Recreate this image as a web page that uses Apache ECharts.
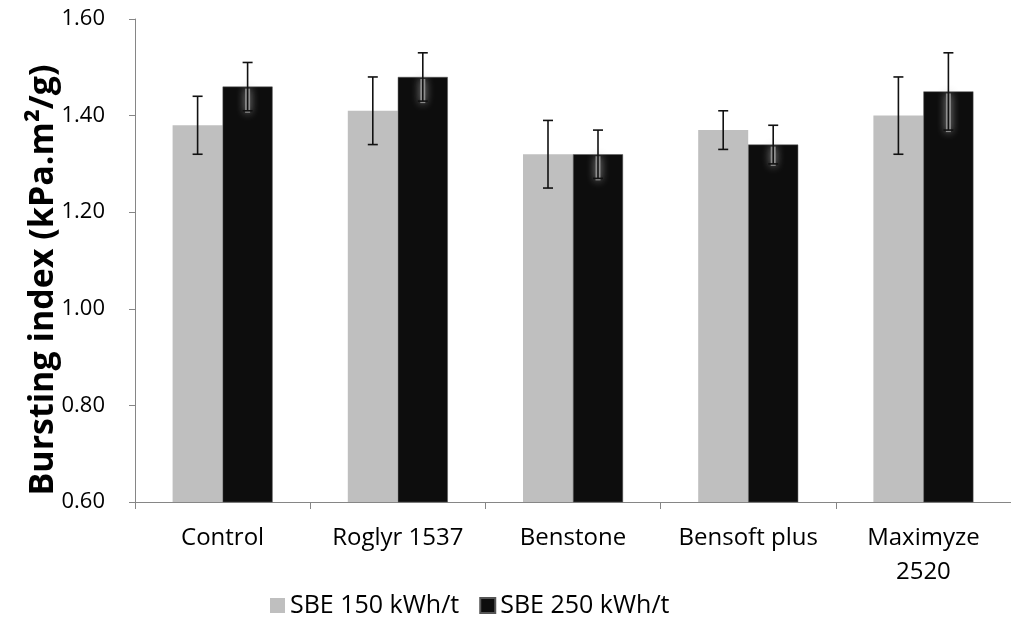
<!DOCTYPE html>
<html>
<head>
<meta charset="utf-8">
<script src="https://cdn.jsdelivr.net/npm/echarts@6/dist/echarts.min.js"></script>
<style>
  html, body { margin: 0; padding: 0; background: #fff; }
  #chart { width: 1011px; height: 617px; }
</style>
</head>
<body>
<div id="chart"></div>
<script>
var categories = ['Control', 'Roglyr 1537', 'Benstone', 'Bensoft plus', 'Maximyze\n2520'];
var sbe150 = [1.38, 1.41, 1.32, 1.37, 1.40];
var sbe250 = [1.46, 1.48, 1.32, 1.34, 1.45];
var err150 = [0.06, 0.07, 0.07, 0.04, 0.08];
var err250 = [0.05, 0.05, 0.05, 0.04, 0.08];
var yTicks = [0.60, 0.80, 1.00, 1.20, 1.40, 1.60];

var FONT = '"Open Sans", sans-serif';
var BAR_W = 50;

function errData(vals, errs) {
  return vals.map(function (v, i) { return [i, v, v - errs[i], v + errs[i]]; });
}

function errRender(offset, glow) {
  return function (params, api) {
    var x = api.coord([api.value(0), api.value(1)])[0] + offset;
    var yv = api.coord([api.value(0), api.value(1)])[1];
    var ylo = api.coord([api.value(0), api.value(2)])[1];
    var yhi = api.coord([api.value(0), api.value(3)])[1];
    var kids = [];
    if (glow) {
      // grey halo where the bar sits behind the whisker
      kids.push({
        type: 'line',
        shape: { x1: x, y1: yv + 2, x2: x, y2: ylo + 2 },
        style: { stroke: 'rgba(150,150,150,0.9)', lineWidth: 5, shadowBlur: 8, shadowColor: 'rgba(170,170,170,1)' }
      });
    }
    var st = { stroke: '#111', lineWidth: 1.6 };
    kids.push({ type: 'line', shape: { x1: x, y1: yhi, x2: x, y2: ylo }, style: st });
    kids.push({ type: 'line', shape: { x1: x - 5, y1: yhi, x2: x + 5, y2: yhi }, style: st });
    kids.push({ type: 'line', shape: { x1: x - 5, y1: ylo, x2: x + 5, y2: ylo }, style: st });
    return { type: 'group', children: kids };
  };
}

var myChart = echarts.init(document.getElementById('chart'));
var option = {
  animation: false,
  grid: { left: 135, top: 19, width: 881, height: 483 },
  graphic: [{
    type: 'text',
    x: 43, y: 280,
    rotation: Math.PI / 2,
    style: {
      text: 'Bursting index (kPa.m²/g)',
      font: 'bold 34px ' + FONT,
      fill: '#000',
      align: 'center',
      verticalAlign: 'middle'
    }
  }],
  legend: {
    left: 265, top: 588,
    icon: 'rect', itemWidth: 15, itemHeight: 15, itemGap: 20,
    textStyle: { fontFamily: FONT, fontSize: 25, color: '#000' },
    data: ['SBE 150 kWh/t', 'SBE 250 kWh/t']
  },
  xAxis: {
    type: 'category',
    data: categories,
    axisLine: { lineStyle: { color: '#868686', width: 1 } },
    axisTick: { show: true, length: 7, lineStyle: { color: '#868686' } },
    axisLabel: { fontFamily: FONT, fontSize: 24, color: '#000', margin: 19, lineHeight: 34, interval: 0 }
  },
  yAxis: {
    type: 'value',
    min: 0.6, max: 1.6, interval: 0.2,
    axisLine: { show: true, lineStyle: { color: '#868686', width: 1 } },
    axisTick: { show: true, length: 6, lineStyle: { color: '#868686' } },
    splitLine: { show: false },
    axisLabel: {
      fontFamily: FONT, fontSize: 22, color: '#000', margin: 30,
      formatter: function (v) { return v.toFixed(2); }
    }
  },
  series: [
    { name: 'SBE 150 kWh/t', type: 'bar', data: sbe150, barWidth: BAR_W, barGap: '0%',
      itemStyle: { color: '#bfbfbf' } },
    { name: 'SBE 250 kWh/t', type: 'bar', data: sbe250, barWidth: BAR_W, barGap: '0%',
      itemStyle: { color: '#0d0d0d', borderColor: '#555', borderWidth: 0.5 } },
    { type: 'custom', data: errData(sbe150, err150), renderItem: errRender(-BAR_W / 2, false), z: 10, silent: true },
    { type: 'custom', data: errData(sbe250, err250), renderItem: errRender(BAR_W / 2, true), z: 10, silent: true }
  ]
};
myChart.setOption(option);
window.addEventListener('resize', myChart.resize);
</script>
</body>
</html>
